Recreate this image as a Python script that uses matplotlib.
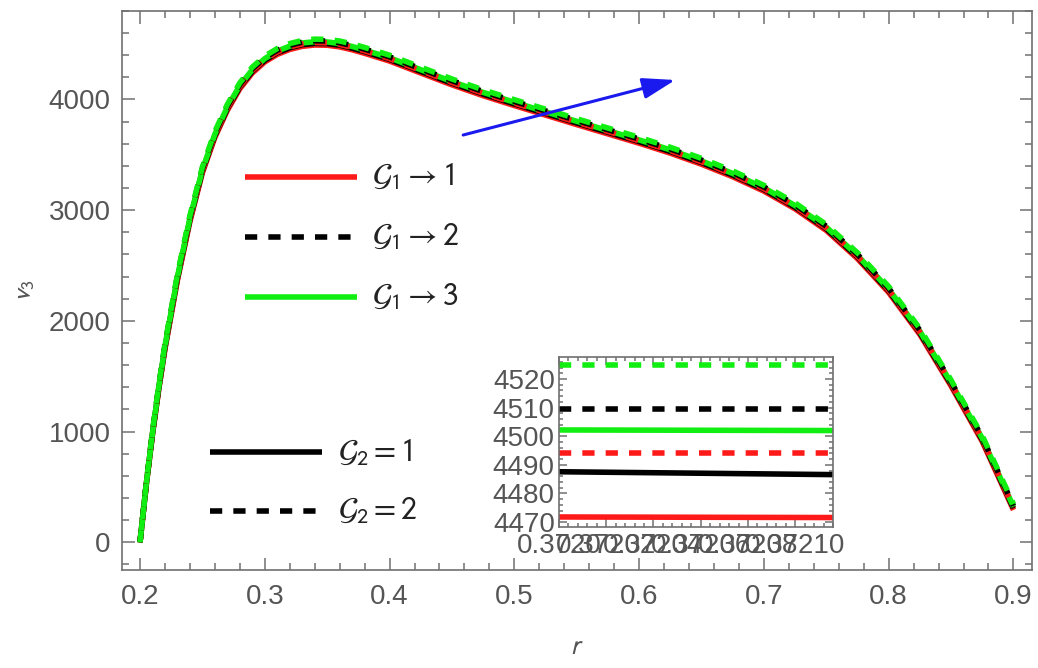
import numpy as np
import matplotlib.pyplot as plt
from matplotlib.ticker import MultipleLocator, FixedLocator

plt.rcParams['font.family'] = ['Liberation Sans', 'DejaVu Sans']
plt.rcParams['mathtext.fontset'] = 'stixsans'

# radial grid and v3 values for the six parameter combinations
r = [0.200, 0.205, 0.210, 0.215, 0.220, 0.230, 0.240, 0.250, 0.260, 0.270, 0.280, 0.290,
     0.300, 0.310, 0.320, 0.330, 0.340, 0.350, 0.360, 0.370, 0.380, 0.390, 0.400, 0.425,
     0.450, 0.475, 0.500, 0.525, 0.550, 0.575, 0.600, 0.625, 0.650, 0.675, 0.700, 0.725,
     0.750, 0.775, 0.800, 0.825, 0.850, 0.875, 0.900]

v_red_solid = [0, 517, 973, 1378, 1745, 2367, 2897, 3337, 3657, 3902, 4097, 4239,
               4339, 4407, 4452, 4480, 4492, 4490, 4475, 4449, 4417, 4382, 4347, 4239,
               4132, 4034, 3945, 3859, 3773, 3689, 3605, 3515, 3415, 3302, 3172, 3012,
               2817, 2562, 2257, 1877, 1412, 910, 292]
v_black_solid = [0, 520, 981, 1388, 1758, 2382, 2912, 3352, 3672, 3917, 4112, 4254,
                 4354, 4422, 4467, 4495, 4507, 4505, 4490, 4464, 4432, 4397, 4362, 4254,
                 4147, 4049, 3960, 3874, 3788, 3704, 3620, 3530, 3430, 3317, 3187, 3027,
                 2832, 2577, 2272, 1892, 1427, 925, 307]
v_green_solid = [0, 524, 988, 1399, 1770, 2397, 2927, 3367, 3687, 3932, 4127, 4269,
                 4369, 4437, 4482, 4510, 4522, 4520, 4505, 4479, 4447, 4412, 4377, 4269,
                 4162, 4064, 3975, 3889, 3803, 3719, 3635, 3545, 3445, 3332, 3202, 3042,
                 2847, 2592, 2287, 1907, 1442, 940, 322]
v_red_dashed = [0, 522, 984, 1393, 1764, 2389, 2919, 3359, 3679, 3924, 4119, 4261,
                4361, 4429, 4474, 4502, 4514, 4512, 4497, 4471, 4439, 4404, 4369, 4261,
                4154, 4056, 3967, 3881, 3795, 3711, 3627, 3537, 3437, 3324, 3194, 3034,
                2839, 2584, 2279, 1899, 1434, 932, 314]
v_black_dashed = [0, 526, 992, 1405, 1777, 2405, 2935, 3375, 3695, 3940, 4135, 4277,
                  4377, 4445, 4490, 4518, 4530, 4528, 4513, 4487, 4455, 4420, 4385, 4277,
                  4170, 4072, 3983, 3897, 3811, 3727, 3643, 3553, 3453, 3340, 3210, 3050,
                  2855, 2600, 2295, 1915, 1450, 948, 330]
v_green_dashed = [0, 530, 1000, 1415, 1790, 2420, 2950, 3390, 3710, 3955, 4150, 4292,
                  4392, 4460, 4505, 4533, 4545, 4543, 4528, 4502, 4470, 4435, 4400, 4292,
                  4185, 4087, 3998, 3912, 3826, 3742, 3658, 3568, 3468, 3355, 3225, 3065,
                  2870, 2615, 2310, 1930, 1465, 963, 345]

# zoomed-in window
r_zoom = [0.37200, 0.372116]
z_red_solid = [4471.8, 4471.6]
z_black_solid = [4487.6, 4486.6]
z_green_solid = [4502.2, 4502.0]
z_red_dashed = [4494.0, 4494.0]
z_black_dashed = [4509.5, 4509.5]
z_green_dashed = [4525.0, 4525.0]
zoom_xticks = [0.37200, 0.37202, 0.37204, 0.37206, 0.37208, 0.37210]
zoom_xticklabels = ['0.3720', '0.37202', '0.37204', '0.37206', '0.37208', '0.37210']
zoom_yticks = [4470, 4480, 4490, 4500, 4510, 4520]

# arrow showing the increasing direction
arrow_start = (0.459, 3679)
arrow_end = (0.629, 4176)

RED = '#ff1a1a'
GREEN = '#11ee11'
BLACK = '#000000'
GRAY = '#707070'
TXT = '#555555'
LW = 4
DASH = (2.2, 2.0)

series = [
    (v_red_solid, z_red_solid, RED, '-'),
    (v_black_solid, z_black_solid, BLACK, '-'),
    (v_green_solid, z_green_solid, GREEN, '-'),
    (v_red_dashed, z_red_dashed, RED, '--'),
    (v_black_dashed, z_black_dashed, BLACK, '--'),
    (v_green_dashed, z_green_dashed, GREEN, '--'),
]

fig = plt.figure(figsize=(10.38, 6.68), dpi=100)
ax = fig.add_axes([0.1172, 0.1467, 0.8767, 0.8373])


def style_frame(a, size):
    for s in a.spines.values():
        s.set_color(GRAY)
        s.set_linewidth(1.2)
    a.tick_params(which='both', direction='in', top=True, right=True, colors=GRAY,
                  labelcolor=TXT, labelsize=size, width=1.1)
    a.tick_params(which='major', length=9)
    a.tick_params(which='minor', length=5)


for v, _, c, ls in series:
    line, = ax.plot(r, v, color=c, lw=LW, ls=ls, solid_capstyle='butt')
    if ls == '--':
        line.set_dashes(DASH)

ax.set_xlim(0.1853, 0.9146)
ax.set_ylim(-250, 4802)
ax.xaxis.set_major_locator(MultipleLocator(0.1))
ax.xaxis.set_minor_locator(MultipleLocator(0.02))
ax.yaxis.set_major_locator(MultipleLocator(1000))
ax.yaxis.set_minor_locator(MultipleLocator(200))
style_frame(ax, 20)
ax.tick_params(axis='x', pad=10)
ax.tick_params(axis='y', pad=8)
ax.set_xlabel('$r$', fontsize=19, color=TXT, labelpad=18)
ax.set_ylabel('$v_3$', fontsize=19, color=TXT, labelpad=8)

ax.annotate('', xy=arrow_end, xytext=arrow_start,
            arrowprops=dict(arrowstyle='-|>,head_length=1.0,head_width=0.32',
                            mutation_scale=20, color='#1a1aee', lw=2.2,
                            shrinkA=0, shrinkB=0))

# legend entries drawn in axes fraction
leg1 = [(RED, '-', r'$\mathcal{G}_1\rightarrow 1$'),
        (BLACK, '--', r'$\mathcal{G}_1\rightarrow 2$'),
        (GREEN, '-', r'$\mathcal{G}_1\rightarrow 3$')]
leg1_y = [0.7032, 0.5949, 0.4886]
leg2 = [(BLACK, '-', r'$\mathcal{G}_2=1$'),
        (BLACK, '--', r'$\mathcal{G}_2=2$')]
leg2_y = [0.2104, 0.1060]

for (c, ls, lab), y in zip(leg1, leg1_y):
    h, = ax.plot([0.1355, 0.2583], [y, y], color=c, lw=LW, ls=ls, transform=ax.transAxes,
                 solid_capstyle='butt')
    if ls == '--':
        h.set_dashes(DASH)
    ax.text(0.2751, y, lab, transform=ax.transAxes, fontsize=23, va='center', ha='left',
            color='#222222')

for (c, ls, lab), y in zip(leg2, leg2_y):
    h, = ax.plot([0.0970, 0.2198], [y, y], color=c, lw=LW, ls=ls, transform=ax.transAxes,
                 solid_capstyle='butt')
    if ls == '--':
        h.set_dashes(DASH)
    ax.text(0.2377, y, lab, transform=ax.transAxes, fontsize=23, va='center', ha='left',
            color='#222222')

# inset
axin = fig.add_axes([0.5385, 0.2111, 0.2640, 0.2545])
for _, z, c, ls in series:
    line, = axin.plot(r_zoom, z, color=c, lw=LW, ls=ls, solid_capstyle='butt')
    if ls == '--':
        line.set_dashes(DASH)
axin.set_xlim(r_zoom[0], r_zoom[1])
axin.set_ylim(4468.3, 4527.7)
axin.xaxis.set_major_locator(FixedLocator(zoom_xticks))
axin.set_xticklabels(zoom_xticklabels)
axin.xaxis.set_minor_locator(MultipleLocator(0.000004))
axin.yaxis.set_major_locator(FixedLocator(zoom_yticks))
axin.yaxis.set_minor_locator(MultipleLocator(2))
style_frame(axin, 20)
axin.tick_params(which='major', length=6)
axin.tick_params(which='minor', length=3)
axin.tick_params(axis='x', pad=4)
axin.tick_params(axis='y', pad=3)

fig.savefig('out.png', dpi=100)
